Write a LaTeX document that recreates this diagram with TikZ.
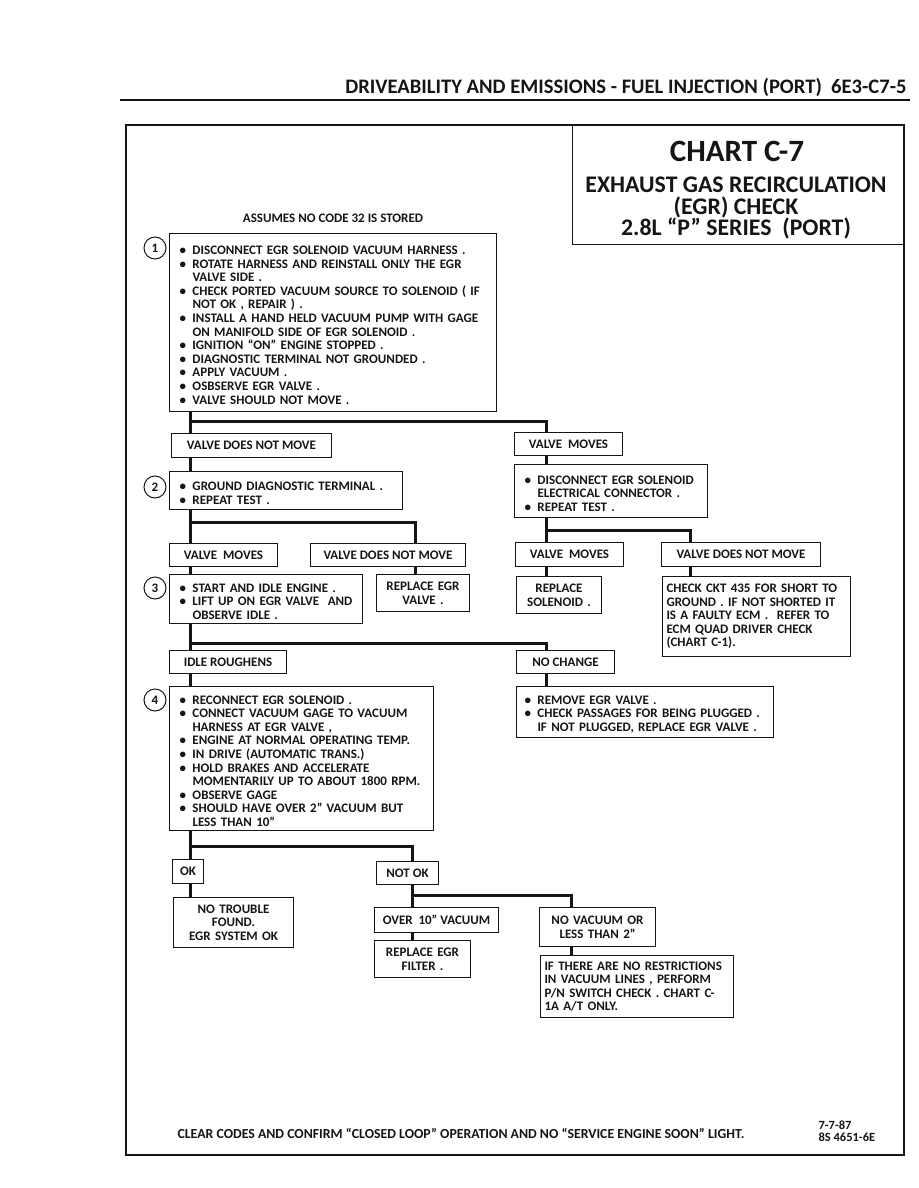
\documentclass[tikz,border=0pt]{standalone}
\usepackage{fontspec}
\setmainfont{Carlito}
\usepackage{tikz}
\usetikzlibrary{positioning}
\definecolor{ink}{HTML}{151515}
\newcommand\chartbody{\fontsize{13}{13.6}\selectfont\bfseries}
\newcommand\bitem[1]{\par\noindent\hangindent=13pt\hangafter=1\makebox[13pt][l]{\textbullet}#1\par}
\tikzset{
    stepbox/.style={
        draw=ink, line width=1pt, anchor=north west,
        inner xsep=10pt, inner ysep=2pt, align=left,
        font=\chartbody, text=ink
    },
    notebox/.style={
        draw=ink, line width=1pt, anchor=north west,
        inner xsep=5pt, inner ysep=2pt, align=center,
        font=\chartbody, text=ink
    },
    tagbox/.style={
        draw=ink, line width=1pt, anchor=north west,
        inner sep=2pt, font=\chartbody, text=ink
    },
    stepnum/.style={
        circle, draw=ink, line width=1pt, minimum size=22pt,
        inner sep=0pt, font=\chartbody, text=ink
    },
    flow/.style={
        draw=ink, line width=3pt
    },
}
\begin{document}
\begin{tikzpicture}[x=1pt, y=-1pt]
    \useasboundingbox (0,0) rectangle (918,1188);

    % Page head and frame
    \node[anchor=east, font=\fontsize{20.6}{20.6}\selectfont\bfseries, text=ink] (pagehead) at (910,87)
        {DRIVEABILITY AND EMISSIONS - FUEL INJECTION (PORT)~~6E3-C7-5};
    \draw[ink, line width=2.5pt] (120,100) -- (910,100);
    \draw[ink, line width=2pt] (126,125) rectangle (904,1155);

    % Chart title
    \node[draw=ink, line width=1.2pt, anchor=north west, minimum width=332pt, minimum height=119pt] (chartbox) at (572,125) {};
    \node[font=\fontsize{31}{31}\selectfont\bfseries, text=ink] (charttitle) at (737,151) {CHART C-7};
    \node[font=\fontsize{23.8}{21.5}\selectfont\bfseries, text=ink, align=center] (chartsub) at (736,208)
        {EXHAUST GAS RECIRCULATION\\(EGR) CHECK\\2.8L “P” SERIES~~(PORT)};

    \node[font=\chartbody, text=ink] (assume) at (333,218) {ASSUMES NO CODE 32 IS STORED};

    % Step 1
    \node[stepbox, text width=307pt, minimum height=178pt] (chk1) at (169,233) {%
        \bitem{DISCONNECT EGR SOLENOID VACUUM HARNESS .}
        \bitem{ROTATE HARNESS AND REINSTALL ONLY THE EGR\newline VALVE SIDE .}
        \bitem{CHECK PORTED VACUUM SOURCE TO SOLENOID ( IF\newline NOT OK , REPAIR ) .}
        \bitem{INSTALL A HAND HELD VACUUM PUMP WITH GAGE\newline ON MANIFOLD SIDE OF EGR SOLENOID .}
        \bitem{IGNITION “ON” ENGINE STOPPED .}
        \bitem{DIAGNOSTIC TERMINAL NOT GROUNDED .}
        \bitem{APPLY VACUUM .}
        \bitem{OSBSERVE EGR VALVE .}
        \bitem{VALVE SHOULD NOT MOVE .}};
    \node[stepnum] (n1) at (155,248) {1};

    \node[tagbox, minimum width=160pt, minimum height=24pt] (vdnmA) at (171,433) {VALVE DOES NOT MOVE};
    \node[tagbox, minimum width=108pt, minimum height=23pt] (vmA) at (514,432) {VALVE~ MOVES};

    % Step 2
    \node[stepbox, text width=213pt, minimum height=38pt] (chk2) at (169,471) {%
        \bitem{GROUND DIAGNOSTIC TERMINAL .}
        \bitem{REPEAT TEST .}};
    \node[stepnum] (n2) at (155,487) {2};
    \node[stepbox, text width=173pt, minimum height=53pt] (disc) at (514,464) {%
        \bitem{DISCONNECT EGR SOLENOID\newline ELECTRICAL CONNECTOR .}
        \bitem{REPEAT TEST .}};

    \node[tagbox, minimum width=108pt, minimum height=23pt] (vmB) at (169,543) {VALVE~ MOVES};
    \node[tagbox, minimum width=155pt, minimum height=23pt] (vdnmB) at (310,543) {VALVE DOES NOT MOVE};
    \node[tagbox, minimum width=108pt, minimum height=24pt] (vmC) at (515,542) {VALVE~ MOVES};
    \node[tagbox, minimum width=159pt, minimum height=24pt] (vdnmC) at (661,542) {VALVE DOES NOT MOVE};

    % Step 3
    \node[stepbox, text width=173pt, minimum height=49pt] (chk3) at (169,574) {%
        \bitem{START AND IDLE ENGINE .}
        \bitem{LIFT UP ON EGR VALVE~ AND\newline OBSERVE IDLE .}};
    \node[stepnum] (n3) at (155,588) {3};
    \node[notebox, text width=83pt, minimum height=37pt] (repegr) at (376,574) {REPLACE EGR\\VALVE .};
    \node[notebox, text width=75pt, minimum height=37pt] (repsol) at (516,576) {REPLACE\\SOLENOID .};
    \node[stepbox, text width=180pt, minimum height=80pt, inner xsep=4pt] (ckt) at (662,576)
        {CHECK CKT 435 FOR SHORT TO\\GROUND . IF NOT SHORTED IT\\IS A FAULTY ECM .~ REFER TO\\ECM QUAD DRIVER CHECK\\(CHART C-1).};

    \node[tagbox, minimum width=117pt, minimum height=23pt] (idle) at (169,650) {IDLE ROUGHENS};
    \node[tagbox, minimum width=98pt, minimum height=23pt] (nochg) at (516,650) {NO CHANGE};

    % Step 4
    \node[stepbox, text width=244pt, minimum height=144pt] (chk4) at (169,686) {%
        \bitem{RECONNECT EGR SOLENOID .}
        \bitem{CONNECT VACUUM GAGE TO VACUUM\newline HARNESS AT EGR VALVE ,}
        \bitem{ENGINE AT NORMAL OPERATING TEMP.}
        \bitem{IN DRIVE (AUTOMATIC TRANS.)}
        \bitem{HOLD BRAKES AND ACCELERATE\newline MOMENTARILY UP TO ABOUT 1800 RPM.}
        \bitem{OBSERVE GAGE}
        \bitem{SHOULD HAVE OVER 2” VACUUM BUT\newline LESS THAN 10”}};
    \node[stepnum] (n4) at (155,700) {4};
    \node[stepbox, text width=241pt, minimum height=51pt, inner xsep=8pt] (remove) at (516,686) {%
        \bitem{REMOVE EGR VALVE .}
        \bitem{CHECK PASSAGES FOR BEING PLUGGED .\newline IF NOT PLUGGED, REPLACE EGR VALVE .}};

    % Results
    \node[tagbox, minimum width=31pt, minimum height=24pt] (ok) at (172,859) {OK};
    \node[tagbox, minimum width=62pt, minimum height=23pt] (notok) at (376,861) {NOT OK};
    \node[notebox, text width=110pt, minimum height=50pt] (ntf) at (173,897) {NO TROUBLE\\FOUND.\\EGR SYSTEM OK};
    \node[tagbox, minimum width=124pt, minimum height=25pt] (over) at (374,907) {OVER~ 10” VACUUM};
    \node[notebox, text width=106pt, minimum height=39pt] (novac) at (539,907) {NO VACUUM OR\\LESS THAN 2”};
    \node[notebox, text width=86pt, minimum height=37pt] (filter) at (374,940) {REPLACE EGR\\FILTER .};
    \node[stepbox, text width=185pt, minimum height=62pt, inner xsep=4pt] (ifthere) at (540,955)
        {IF THERE ARE NO RESTRICTIONS\\IN VACUUM LINES , PERFORM\\P/N SWITCH CHECK . CHART C-\\1A A/T ONLY.};

    % Junctions
    \coordinate (j1) at (190,421);
    \coordinate (j2) at (190,522);
    \coordinate (j3) at (546,530);
    \coordinate (j4) at (190,643);
    \coordinate (j5) at (190,846);
    \coordinate (j6) at (412,895);
    \coordinate (dropA) at (546,0);
    \coordinate (dropB) at (415,0);
    \coordinate (dropC) at (690,0);
    \coordinate (dropD) at (571,0);

    % Flow lines
    \draw[flow] (chk1.south -| j1) -- (vdnmA.north -| j1);
    \draw[flow] (j1) -| (vmA.north -| dropA);
    \draw[flow] (vdnmA.south -| j1) -- (chk2.north -| j1);
    \draw[flow] (vmA.south -| dropA) -- (disc.north -| dropA);
    \draw[flow] (chk2.south -| j2) -- (vmB.north -| j2);
    \draw[flow] (j2) -| (vdnmB.north -| dropB);
    \draw[flow] (disc.south -| j3) -- (vmC.north -| j3);
    \draw[flow] (j3) -| (vdnmC.north -| dropC);
    \draw[flow] (vmB.south -| j2) -- (chk3.north -| j2);
    \draw[flow] (vdnmB.south -| dropB) -- (repegr.north -| dropB);
    \draw[flow] (vmC.south -| j3) -- (repsol.north -| j3);
    \draw[flow] (vdnmC.south -| dropC) -- (ckt.north -| dropC);
    \draw[flow] (chk3.south -| j4) -- (idle.north -| j4);
    \draw[flow] (j4) -| (nochg.north -| dropA);
    \draw[flow] (idle.south -| j4) -- (chk4.north -| j4);
    \draw[flow] (nochg.south -| dropA) -- (remove.north -| dropA);
    \draw[flow] (chk4.south -| j5) -- (ok.north -| j5);
    \draw[flow] (j5) -| (notok.north -| j6);
    \draw[flow] (ok.south -| j5) -- (ntf.north -| j5);
    \draw[flow] (notok.south -| j6) -- (over.north -| j6);
    \draw[flow] (j6) -| (novac.north -| dropD);
    \draw[flow] (over.south -| j6) -- (filter.north -| j6);
    \draw[flow] (novac.south -| dropD) -- (ifthere.north -| dropD);

    % Foot
    \node[font=\fontsize{13.8}{14}\selectfont\bfseries, text=ink] (footnote) at (461,1133)
        {CLEAR CODES AND CONFIRM “CLOSED LOOP” OPERATION AND NO “SERVICE ENGINE SOON” LIGHT.};
    \node[anchor=west, align=left, font=\fontsize{12.5}{12.5}\selectfont\bfseries, text=ink] (figref) at (815,1131)
        {7-7-87\\8S 4651-6E};

\end{tikzpicture}
\end{document}
